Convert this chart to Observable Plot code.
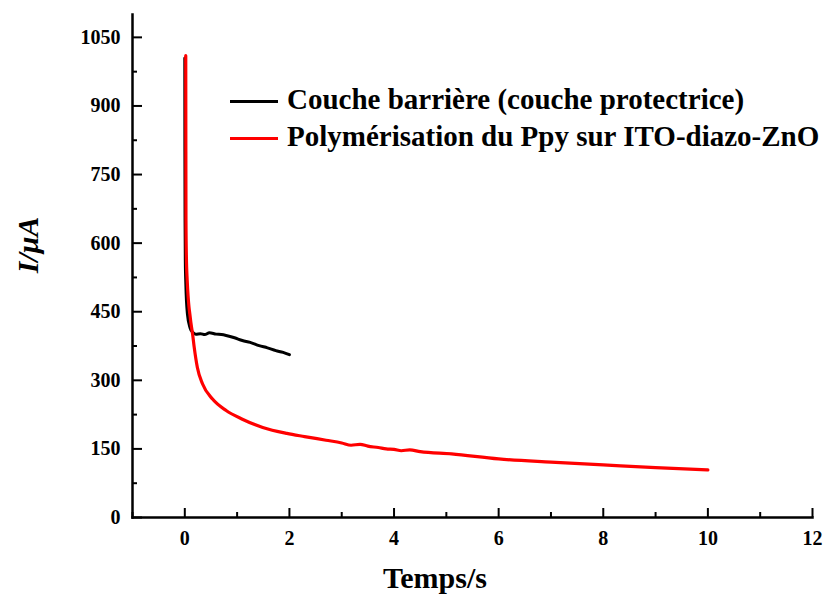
<!DOCTYPE html>
<html>
<head>
<meta charset="utf-8">
<script src="https://cdn.jsdelivr.net/npm/d3@7"></script>
<script src="https://cdn.jsdelivr.net/npm/@observablehq/plot@0.6"></script>
<style>
  body { margin: 0; background: white; }
  #wrap { position: relative; width: 824px; height: 597px; font-family: "Liberation Serif", "Times New Roman", serif; font-weight: bold; color: black; }
  .leg { position: absolute; left: 230px; white-space: nowrap; font-size: 29px; line-height: 29px; }
  .leg .sw { position: absolute; left: 0; width: 48px; height: 3px; }
  .leg .tx { position: absolute; left: 57px; top: 0; }
  .title { position: absolute; white-space: nowrap; }
</style>
</head>
<body>
<div id="wrap">
  <div id="chart"></div>
  <div class="leg" style="top:85px"><div class="sw" style="background:#000;top:14.5px"></div><div class="tx">Couche barrière (couche protectrice)</div></div>
  <div class="leg" style="top:122px"><div class="sw" style="background:#ff0000;top:14.5px"></div><div class="tx">Polymérisation du Ppy sur ITO-diazo-ZnO</div></div>
  <div class="title" style="left:383px;top:563px;font-size:30px;line-height:30px;">Temps/s</div>
  <div class="title" style="left:28px;top:245px;font-size:30px;line-height:30px;font-style:italic;transform:translate(-50%,-50%) rotate(-90deg);">I/μA</div>
</div>
<script>
// Tick values
const xTicks = [0, 2, 4, 6, 8, 10, 12];
const xMinor = [-1, 1, 3, 5, 7, 9, 11];
const yTicks = [0, 150, 300, 450, 600, 750, 900, 1050];
const yMinor = [75, 225, 375, 525, 675, 825, 975];

// Series: Couche barrière (couche protectrice)
const barrierT = [0.0, 0.002, 0.005, 0.01, 0.02, 0.05, 0.1, 0.15, 0.21, 0.3, 0.38, 0.47, 0.6, 0.7, 0.79, 0.95, 1.1, 1.25, 1.42, 1.58, 1.74, 1.88, 2.0];
const barrierI = [1005, 800, 650, 560, 510, 445, 415, 405, 401, 402, 400, 404, 401, 400, 398, 393, 387, 383, 376, 371, 365, 361, 356];

// Series: Polymérisation du Ppy sur ITO-diazo-ZnO
const polyT = [0.018, 0.02, 0.022, 0.03, 0.045, 0.064, 0.08, 0.096, 0.115, 0.15, 0.18, 0.24, 0.34, 0.53, 0.79, 1.1, 1.49, 1.95, 2.29, 2.7, 3.0, 3.18, 3.35, 3.5, 3.7, 3.85, 4.0, 4.14, 4.3, 4.5, 5.1, 6.0, 7.0, 8.0, 9.0, 10.0];
const polyI = [1010, 800, 650, 570, 520, 482, 460, 445, 427, 400, 372, 328, 292, 259, 234, 215, 197, 184, 177, 169, 163, 158, 160, 156, 153, 150, 149, 146, 148, 144, 139, 128, 121, 115, 109, 104];

const barrier = barrierT.map((t, i) => ({t, I: barrierI[i]}));
const poly = polyT.map((t, i) => ({t, I: polyI[i]}));

const chart = Plot.plot({
  width: 824,
  height: 597,
  marginLeft: 132,
  marginRight: 12,
  marginTop: 14,
  marginBottom: 80,
  x: {domain: [-1, 12]},
  y: {domain: [0, 1100]},
  style: {fontFamily: "Liberation Serif", fontWeight: "bold", fontSize: "20px", color: "black", background: "white", overflow: "visible"},
  marks: [
    Plot.axisX({ticks: xTicks, tickSize: -9, tickPadding: 22, tickFormat: d => String(d), label: null, strokeWidth: 2, fontSize: 20, fontWeight: "bold"}),
    Plot.axisX({ticks: xMinor, tickSize: -5, text: null, label: null, strokeWidth: 2}),
    Plot.axisY({ticks: yTicks, tickSize: -10, tickPadding: 22, tickFormat: d => String(d), label: null, strokeWidth: 2, fontSize: 20, fontWeight: "bold"}),
    Plot.axisY({ticks: yMinor, tickSize: -5, text: null, label: null, strokeWidth: 2}),
    Plot.frame({anchor: "left", strokeWidth: 2.5}),
    Plot.frame({anchor: "bottom", strokeWidth: 2.5}),
    Plot.line(barrier, {x: "t", y: "I", stroke: "#000000", strokeWidth: 3, curve: "monotone-x"}),
    Plot.line(poly, {x: "t", y: "I", stroke: "#ff0000", strokeWidth: 3.2, curve: "monotone-x"})
  ]
});
document.getElementById("chart").appendChild(chart);
</script>
</body>
</html>
